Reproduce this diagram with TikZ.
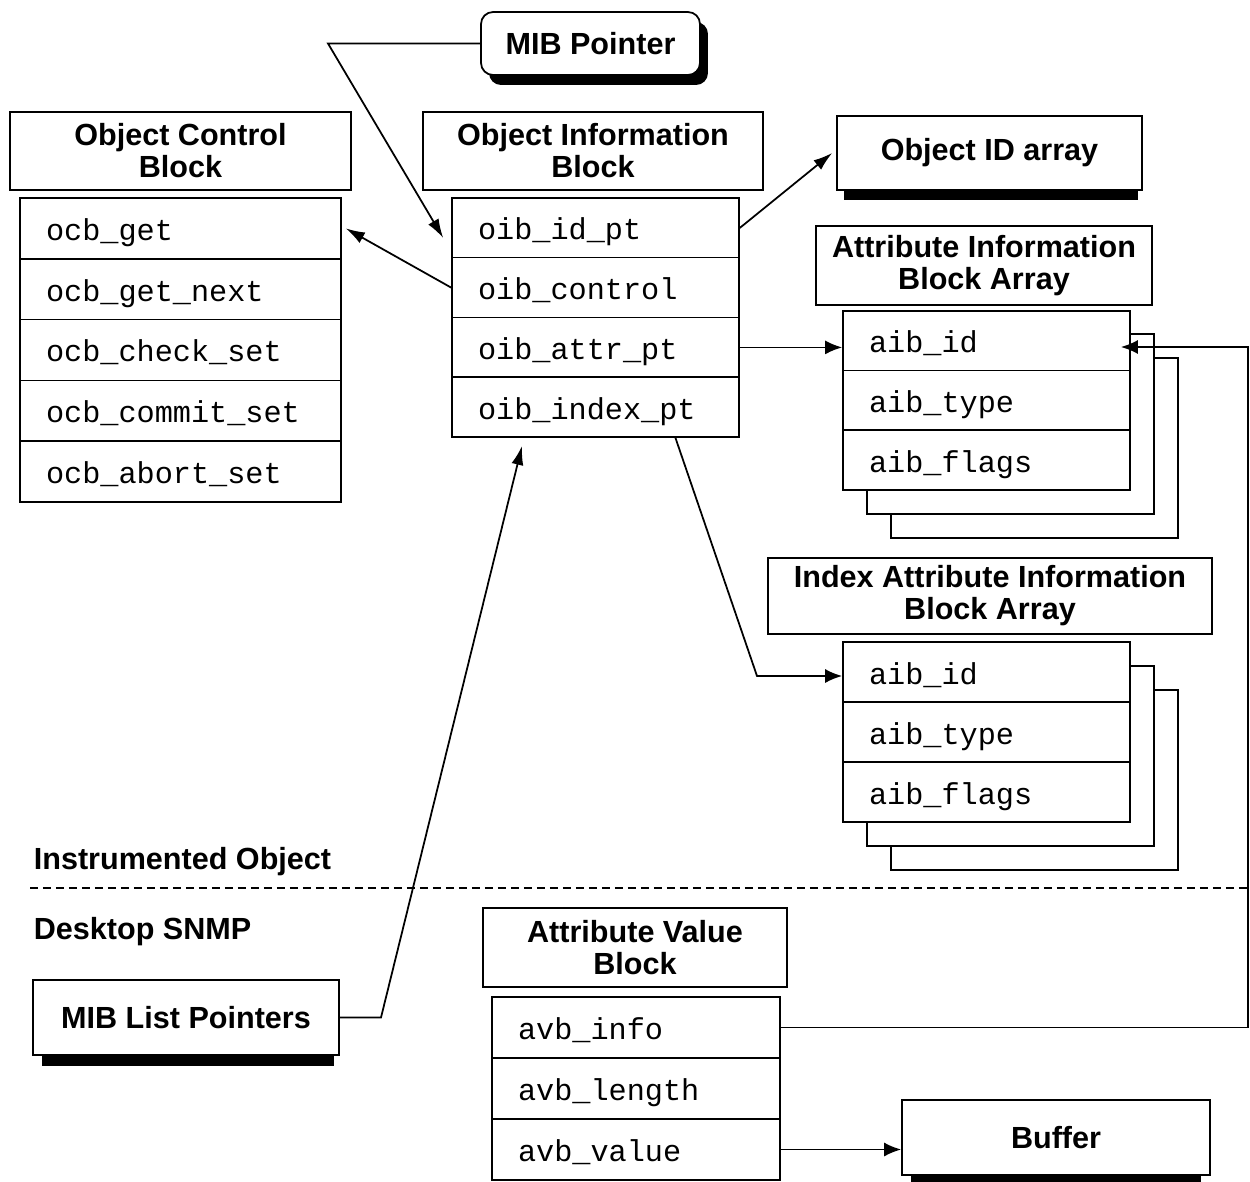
\documentclass[tikz,border=0pt]{standalone}
\usepackage{fontspec}
\usepackage{tikz}
\usetikzlibrary{arrows.meta,calc,positioning,shadows}
\newfontfamily\labelsans{Liberation Sans}
\newfontfamily\fieldmono{Liberation Mono}

\begin{document}
\begin{tikzpicture}[
  x=0.02cm, y=-0.02cm,
  line width=1pt,
  head/.style={draw, fill=white, align=center, font=\labelsans\bfseries\fontsize{17.4}{18.2}\selectfont, minimum width=#1, minimum height=1.56cm, inner sep=0pt},
  field/.style={draw, fill=white, align=left, font=\fieldmono\fontsize{17.2}{18}\selectfont, text width=#1, text height=0.6cm, text depth=0.12cm, inner xsep=0.52cm, inner ysep=0pt, minimum height=1.2cm},
  sheet/.style={draw, fill=white, minimum width=5.74cm, minimum height=3.6cm, inner sep=0pt},
  sidelabel/.style={font=\labelsans\bfseries\fontsize{17.4}{18.2}\selectfont, inner sep=0pt, anchor=west},
  arr/.style={-{Latex[length=0.38cm, width=0.24cm]}},
  barrow/.style={-{Latex[length=0.34cm, width=0.28cm]}}
]
\useasboundingbox (0,0) rectangle (1250,1182);

% pointer and headers
\node[draw, fill=white, rounded corners=0.24cm, minimum width=4.38cm, minimum height=1.26cm, font=\labelsans\bfseries\fontsize{17.4}{18.2}\selectfont, general shadow={fill=black, shadow xshift=0.16cm, shadow yshift=-0.2cm}] (mibptr) at (590.5,43.5) {MIB Pointer};
\node[head=6.82cm] (ocbhead) at (180.5,151) {Object Control\\Block};
\node[head=6.80cm] (oibhead) at (593,151) {Object Information\\Block};
\node[head=6.10cm, minimum height=1.48cm] (oid) at (989.5,153) {Object ID array};
\node[head=6.72cm, minimum height=1.58cm] (aibhead) at (984,265.5) {Attribute Information\\Block Array};
\node[head=8.88cm, minimum height=1.52cm] (iaibhead) at (990,596) {Index Attribute Information\\Block Array};
\node[head=6.08cm, minimum height=1.58cm] (avbhead) at (635,947.5) {Attribute Value\\Block};
\node[head=6.12cm, minimum height=1.5cm] (miblist) at (186,1017.5) {MIB List Pointers};
\node[head=6.16cm, minimum height=1.5cm] (buffer) at (1056,1137.5) {Buffer};
\fill ([xshift=0.16cm]oid.south west) rectangle ([xshift=-0.1cm,yshift=-0.18cm]oid.south east);
\fill ([xshift=0.2cm]miblist.south west) rectangle ([xshift=-0.12cm,yshift=-0.2cm]miblist.south east);
\fill ([xshift=0.2cm]buffer.south west) rectangle ([xshift=-0.2cm,yshift=-0.2cm]buffer.south east);

% object control block
\node[field=5.38cm, minimum height=1.216cm] (ocbget) at (180.5,228.4) {ocb\_get};
\node[field=5.38cm, minimum height=1.216cm] (ocbnext) at (180.5,289.2) {ocb\_get\_next};
\node[field=5.38cm, minimum height=1.216cm] (ocbcheck) at (180.5,350) {ocb\_check\_set};
\node[field=5.38cm, minimum height=1.216cm] (ocbcommit) at (180.5,410.8) {ocb\_commit\_set};
\node[field=5.38cm, minimum height=1.216cm] (ocbabort) at (180.5,471.6) {ocb\_abort\_set};

% object information block
\node[field=4.70cm] (oibid) at (595.5,227.9) {oib\_id\_pt};
\node[field=4.70cm] (oibctrl) at (595.5,287.6) {oib\_control};
\node[field=4.70cm] (oibattr) at (595.5,347.4) {oib\_attr\_pt};
\node[field=4.70cm] (oibindex) at (595.5,407.1) {oib\_index\_pt};

% attribute information block array
\node[sheet] (aibsheetc) at (1034.5,448) {};
\node[sheet] (aibsheetb) at (1010.5,424) {};
\node[field=4.70cm] (aibid) at (986.5,340.8) {aib\_id};
\node[field=4.70cm] (aibtype) at (986.5,400.5) {aib\_type};
\node[field=4.70cm] (aibflags) at (986.5,460.2) {aib\_flags};

% index attribute information block array
\node[sheet] (iaibsheetc) at (1034.5,780) {};
\node[sheet] (iaibsheetb) at (1010.5,756) {};
\node[field=4.70cm] (iaibid) at (986.5,672) {aib\_id};
\node[field=4.70cm] (iaibtype) at (986.5,732) {aib\_type};
\node[field=4.70cm] (iaibflags) at (986.5,792) {aib\_flags};

% attribute value block
\node[field=4.72cm, minimum height=1.22cm] (avbinfo) at (636,1027.5) {avb\_info};
\node[field=4.72cm, minimum height=1.22cm] (avblength) at (636,1088.5) {avb\_length};
\node[field=4.72cm, minimum height=1.22cm] (avbvalue) at (636,1149.5) {avb\_value};

% boundary
\node[sidelabel] (instobj) at (33,862) {Instrumented Object};
\node[sidelabel] (desksnmp) at (33,932) {Desktop SNMP};
\coordinate (sepleft) at (30,888);
\coordinate (sepright) at (1250,888);
\draw[dash pattern=on 0.16cm off 0.1cm] (sepleft) -- (sepright);

% pointers
\coordinate (mibbend) at (328,48);
\coordinate (railtop) at (1248,347);
\coordinate (idxbend) at (757,676);
\coordinate (listbend) at (381,1017.5);
\draw[arr] (mibptr.west) -- (mibptr.west -| mibbend) -- ([xshift=-0.16cm,yshift=-0.2cm]oibid.west);
\draw[arr] (oibctrl.west) -- ([xshift=0.08cm]ocbget.east);
\draw[arr] (oibid.east) -- ([xshift=-0.08cm]oid.west);
\draw[barrow] (oibattr.east) -- (oibattr.east -| aibid.west);
\draw[barrow] (avbinfo.east) -| (railtop) -- ([xshift=-0.2cm]railtop -| aibid.east);
\draw[barrow] ([xshift=1.6cm]oibindex.south) -- (idxbend) -- (idxbend -| iaibid.west);
\draw[arr] (miblist.east) -- (listbend) -- ([xshift=-1.47cm,yshift=-0.16cm]oibindex.south);
\draw[barrow] (avbvalue.east) -- (avbvalue.east -| buffer.west);
\end{tikzpicture}
\end{document}
